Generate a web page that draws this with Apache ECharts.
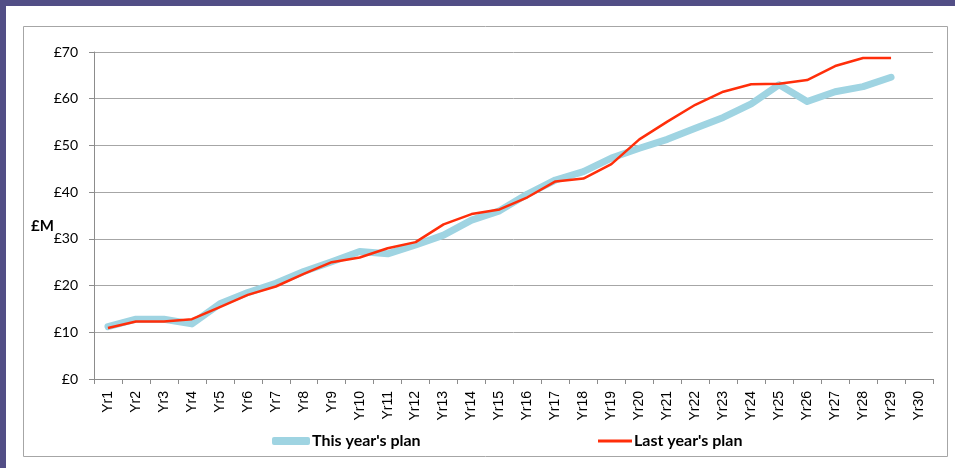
<!DOCTYPE html>
<html>
<head>
<meta charset="utf-8">
<script src="https://cdn.jsdelivr.net/npm/echarts@6/dist/echarts.min.js"></script>
<style>
  html, body { margin: 0; padding: 0; background: #fff; }
  #chart { width: 955px; height: 468px; }
</style>
</head>
<body>
<div id="chart"></div>
<script>
// Plan values in £M by year
const years = [];
for (let i = 1; i <= 30; i++) years.push('Yr' + i);

const thisYearPlan = [11.2, 12.8, 12.8, 11.8, 16.1, 18.5, 20.5, 23.0, 25.1, 27.3,
  26.8, 28.7, 30.8, 34.0, 36.0, 39.6, 42.6, 44.4, 47.3, 49.4,
  51.3, 53.7, 56.0, 58.9, 63.0, 59.4, 61.5, 62.6, 64.6, null];

const lastYearPlan = [10.9, 12.3, 12.3, 12.8, 15.4, 18.0, 19.8, 22.5, 25.0, 26.0,
  28.0, 29.3, 33.1, 35.3, 36.3, 38.9, 42.3, 42.9, 46.0, 51.3,
  55.1, 58.7, 61.5, 63.1, 63.2, 64.0, 67.0, 68.7, 68.7, null];

const yTicks = [0, 10, 20, 30, 40, 50, 60, 70];

const chart = echarts.init(document.getElementById('chart'), null, { renderer: 'canvas' });

const labelFont = 'Lato, "Open Sans", sans-serif';
const axisFont = '"Liberation Sans", Arial, sans-serif';

chart.setOption({
  backgroundColor: '#ffffff',
  animation: false,
  graphic: [
    { type: 'rect', shape: { x: 0, y: 0, width: 955, height: 6 }, style: { fill: '#524E86' }, z: 0 },
    { type: 'rect', shape: { x: 0, y: 0, width: 6, height: 468 }, style: { fill: '#524E86' }, z: 0 },
    { type: 'rect', shape: { x: 23.5, y: 26.5, width: 924, height: 430 },
      style: { fill: 'none', stroke: '#A6A6A6', lineWidth: 1 }, z: 0 },
    { type: 'text', left: 31, top: 219,
      style: { text: '£M', font: 'bold 15px ' + labelFont, fill: '#000' } }
  ],
  grid: { left: 94, right: 22, top: 52, bottom: 89, containLabel: false },
  legend: [
    {
      data: [{ name: "This year's plan", icon: 'roundRect' }],
      left: 267, top: 428,
      itemWidth: 38, itemHeight: 8, itemGap: 10,
      textStyle: { fontFamily: labelFont, fontWeight: 'bold', fontSize: 16, color: '#000', padding: [0, 0, 0, -3] }
    },
    {
      data: [{ name: "Last year's plan", icon: 'rect' }],
      left: 593, top: 428,
      itemWidth: 34, itemHeight: 3, itemGap: 10,
      textStyle: { fontFamily: labelFont, fontWeight: 'bold', fontSize: 16, color: '#000', padding: [0, 0, 0, -3] }
    }
  ],
  xAxis: {
    type: 'category',
    data: years,
    boundaryGap: true,
    axisLine: { lineStyle: { color: '#8C8C8C', width: 1 } },
    axisTick: { show: true, alignWithLabel: false, length: 5, lineStyle: { color: '#8C8C8C' } },
    axisLabel: { rotate: 90, interval: 0, margin: 12, fontFamily: axisFont, fontSize: 14, color: '#000' },
    splitLine: { show: false }
  },
  yAxis: {
    type: 'value',
    min: yTicks[0],
    max: yTicks[yTicks.length - 1],
    interval: 10,
    axisLine: { show: true, lineStyle: { color: '#8C8C8C', width: 1 } },
    axisTick: { show: true, length: 5, lineStyle: { color: '#8C8C8C' } },
    axisLabel: { margin: 16, fontFamily: labelFont, fontSize: 14, color: '#000',
      formatter: v => '£' + v },
    splitLine: { lineStyle: { color: '#A6A6A6', width: 1 } }
  },
  series: [
    {
      name: "This year's plan",
      type: 'line',
      data: thisYearPlan,
      symbol: 'none',
      color: '#9FD4E2',
      lineStyle: { color: '#9FD4E2', width: 7, cap: 'round', join: 'round' },
      z: 2
    },
    {
      name: "Last year's plan",
      type: 'line',
      data: lastYearPlan,
      symbol: 'none',
      color: '#FF2E0A',
      lineStyle: { color: '#FF2E0A', width: 2.5, join: 'round' },
      z: 3
    }
  ]
});
</script>
</body>
</html>
